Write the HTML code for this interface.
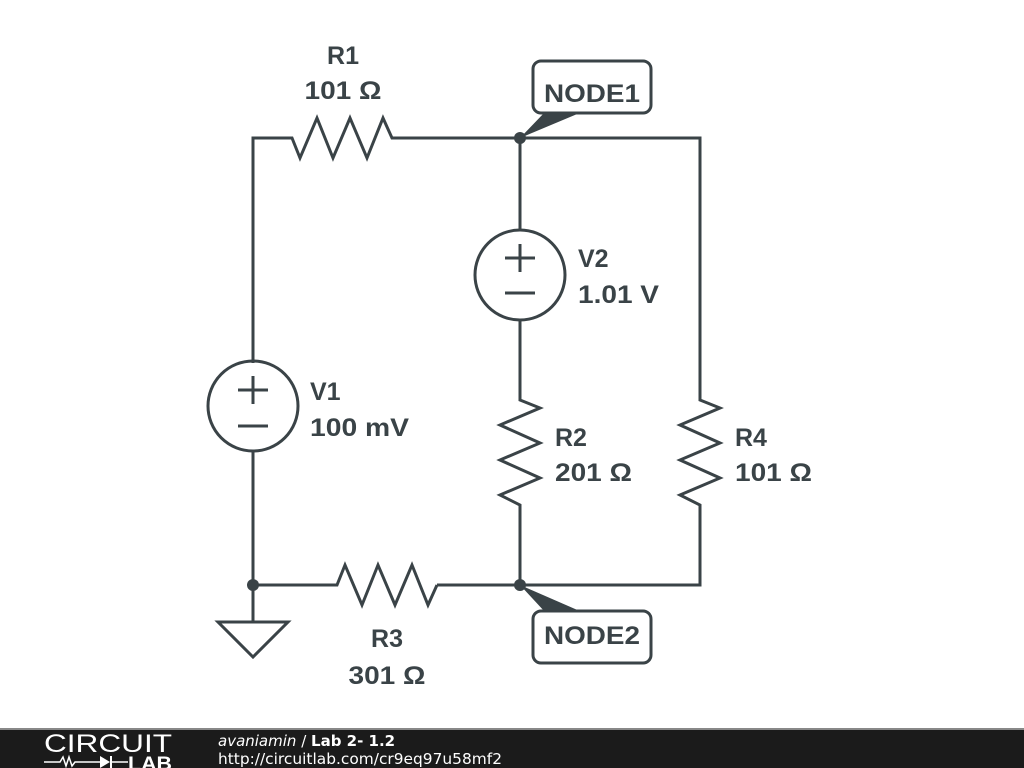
<!DOCTYPE html>
<html><head><meta charset="utf-8"><style>
html,body{margin:0;padding:0;background:#fff;width:1024px;height:768px;overflow:hidden}
svg{display:block}
</style></head><body>
<svg width="1024" height="768" viewBox="0 0 1024 768" xmlns="http://www.w3.org/2000/svg">
<g fill="none" stroke="#3a4347" stroke-width="3" stroke-linejoin="miter">
<polyline points="253,363 253,138 292,138 300,158 317,118 333,158 350,118 367,158 383,118 392,138 700,138 700,400 720,408 680,425 720,443 680,460 720,478 680,495 700,505 700,585 437,585"/>
<polyline points="253,451 253,585 337,585 345,565 362,605 378,565 395,605 412,565 428,605 437,585"/>
<line x1="253" y1="585" x2="253" y2="622"/>
<polygon points="218,622 288,622 253,657"/>
<line x1="520" y1="138" x2="520" y2="230"/>
<polyline points="520,320 520,400 540,408 500,425 540,443 500,460 540,478 500,495 520,505 520,585"/>
<circle cx="253" cy="406" r="45"/>
<circle cx="520" cy="275" r="45"/>
<line x1="238" y1="390" x2="268" y2="390"/><line x1="253" y1="376" x2="253" y2="404"/>
<line x1="238" y1="426" x2="268" y2="426"/>
<line x1="505" y1="258" x2="535" y2="258"/><line x1="520" y1="244" x2="520" y2="272"/>
<line x1="505" y1="293" x2="535" y2="293"/>
<rect x="533" y="61" width="118" height="52" rx="8"/>
<rect x="533" y="611" width="118" height="52" rx="8"/>
</g>
<g fill="#3a4347">
<circle cx="520" cy="138" r="6"/><circle cx="520" cy="585" r="6"/><circle cx="253" cy="585" r="6"/>
<polygon points="520,138 545,112 582,112"/>
<polygon points="520,585 545,612 582,612"/>
</g>
<g font-family="Liberation Sans, sans-serif" font-weight="bold" font-size="25" fill="#3a4347">
<text x="343" y="64" text-anchor="middle">R1</text>
<text x="343" y="99" text-anchor="middle" textLength="77" lengthAdjust="spacingAndGlyphs">101 Ω</text>
<text x="592" y="102" text-anchor="middle" textLength="96" lengthAdjust="spacingAndGlyphs">NODE1</text>
<text x="592" y="644" text-anchor="middle" textLength="96" lengthAdjust="spacingAndGlyphs">NODE2</text>
<text x="578" y="267">V2</text>
<text x="578" y="303" textLength="81" lengthAdjust="spacingAndGlyphs">1.01 V</text>
<text x="310" y="400">V1</text>
<text x="310" y="436" textLength="99" lengthAdjust="spacingAndGlyphs">100 mV</text>
<text x="555" y="446">R2</text>
<text x="555" y="481" textLength="77" lengthAdjust="spacingAndGlyphs">201 Ω</text>
<text x="735" y="446">R4</text>
<text x="735" y="481" textLength="77" lengthAdjust="spacingAndGlyphs">101 Ω</text>
<text x="387" y="647" text-anchor="middle">R3</text>
<text x="387" y="684" text-anchor="middle" textLength="77" lengthAdjust="spacingAndGlyphs">301 Ω</text>
</g>
<rect x="0" y="728" width="1024" height="40" fill="#1b1b1b"/>
<rect x="0" y="728" width="1024" height="2" fill="#888"/>
<text x="44" y="752" font-family="Liberation Sans, sans-serif" font-size="25" fill="#fff" textLength="128" lengthAdjust="spacingAndGlyphs">CIRCUIT</text>
<polyline points="44,762 60,762 63,757 66,766 69,757 72,766 75,762 100,762" fill="none" stroke="#fff" stroke-width="1.5"/>
<polygon points="100,756 100,768 110,762" fill="#fff"/>
<line x1="111" y1="756" x2="111" y2="768" stroke="#fff" stroke-width="2"/>
<line x1="111" y1="762" x2="128" y2="762" stroke="#fff" stroke-width="1.5"/>
<text x="128" y="770" font-family="Liberation Sans, sans-serif" font-weight="bold" font-size="19" fill="#fff" textLength="44" lengthAdjust="spacingAndGlyphs">LAB</text>
<text x="218" y="746" font-family="DejaVu Sans, sans-serif" font-size="15" fill="#fff"><tspan font-style="italic">avaniamin</tspan> / <tspan font-weight="bold">Lab 2- 1.2</tspan></text>
<text x="218" y="764" font-family="DejaVu Sans, sans-serif" font-size="15" fill="#fff" textLength="284" lengthAdjust="spacingAndGlyphs">http://circuitlab.com/cr9eq97u58mf2</text>
</svg>
</body></html>
